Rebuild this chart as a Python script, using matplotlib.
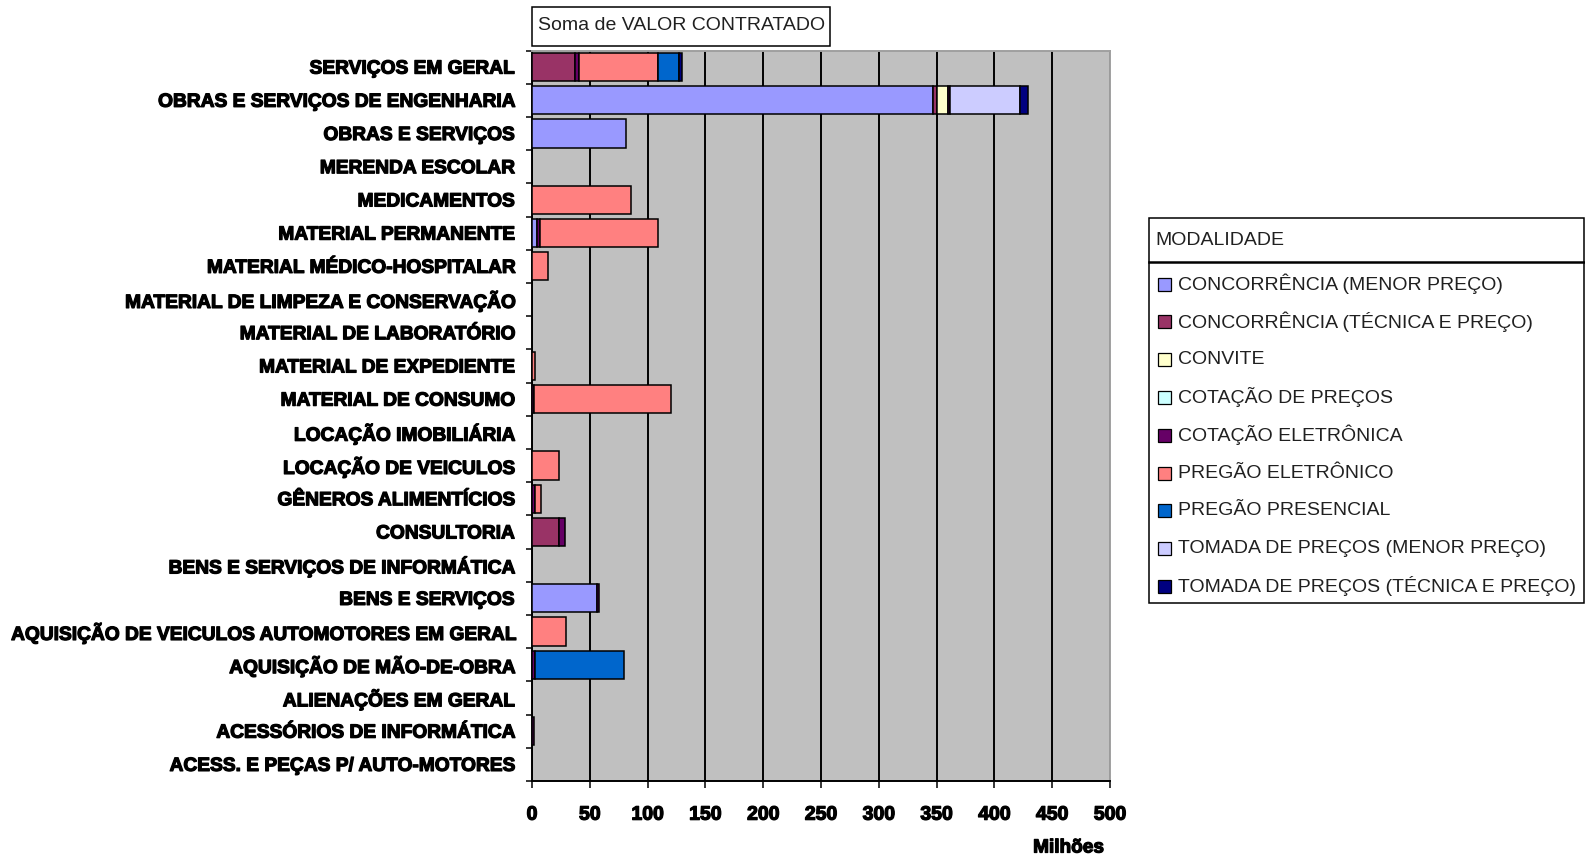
import numpy as np
import matplotlib
matplotlib.use("Agg")
import matplotlib.pyplot as plt
import matplotlib.patheffects as pe
from matplotlib.patches import Rectangle
from matplotlib.lines import Line2D

plt.rcParams["font.family"] = ["Liberation Sans", "DejaVu Sans"]

# ── DADOS (milhões de R$) ────────────────────────────────────────────────────

categorias = [
    "SERVIÇOS EM GERAL",
    "OBRAS E SERVIÇOS DE ENGENHARIA",
    "OBRAS E SERVIÇOS",
    "MERENDA ESCOLAR",
    "MEDICAMENTOS",
    "MATERIAL PERMANENTE",
    "MATERIAL MÉDICO-HOSPITALAR",
    "MATERIAL DE LIMPEZA E CONSERVAÇÃO",
    "MATERIAL DE LABORATÓRIO",
    "MATERIAL DE EXPEDIENTE",
    "MATERIAL DE CONSUMO",
    "LOCAÇÃO IMOBILIÁRIA",
    "LOCAÇÃO DE VEICULOS",
    "GÊNEROS ALIMENTÍCIOS",
    "CONSULTORIA",
    "BENS E SERVIÇOS DE INFORMÁTICA",
    "BENS E SERVIÇOS",
    "AQUISIÇÃO DE VEICULOS AUTOMOTORES EM GERAL",
    "AQUISIÇÃO DE MÃO-DE-OBRA",
    "ALIENAÇÕES EM GERAL",
    "ACESSÓRIOS DE INFORMÁTICA",
    "ACESS. E PEÇAS P/ AUTO-MOTORES",
]

modalidades = [
    "CONCORRÊNCIA (MENOR PREÇO)",
    "CONCORRÊNCIA (TÉCNICA E PREÇO)",
    "CONVITE",
    "COTAÇÃO DE PREÇOS",
    "COTAÇÃO ELETRÔNICA",
    "PREGÃO ELETRÔNICO",
    "PREGÃO PRESENCIAL",
    "TOMADA DE PREÇOS (MENOR PREÇO)",
    "TOMADA DE PREÇOS (TÉCNICA E PREÇO)",
]

cores = ["#9999FF", "#993366", "#FFFFCC", "#CCFFFF", "#660066",
         "#FF8080", "#0066CC", "#CCCCFF", "#000080"]

#               SERV  OBRAS-E OBRAS MEREN MEDIC PERM  MEDH  LIMP  LAB   EXPED CONS  LOCIM LOCV  GEN   CONSU BSINF BS    VEIC  MAO   ALIEN ACINF ACPEC
conc_menor   = [0,    347.2,  81.0, 0,    0,    4.0,  0,    0,    0,    0,    0,    0,    0,    0,    0,    0,    56.0, 0,    0,    0,    0,    0]
conc_tecnica = [37.2, 3.4,    0,    0,    0,    0,    0,    0,    0,    0,    0,    0,    0,    0,    23.1, 0,    0,    0,    0,    0,    0,    0]
convite      = [0,    9.5,    0,    0,    0,    0,    0,    0,    0,    0,    0,    0,    0,    0,    0,    0,    0,    0,    0,    0,    0,    0]
cot_precos   = [0,    0,      0,    0,    0,    0,    0,    0,    0,    0,    0,    0,    0,    0,    0,    0,    0,    0,    0,    0,    0,    0]
cot_eletr    = [3.7,  1.5,    0,    0,    0,    2.9,  0,    0,    0,    0,    1.7,  0,    0,    2.3,  5.4,  0,    2.0,  0,    2.3,  0,    2.0,  0]
pregao_eletr = [67.8, 0,      0,    0,    85.6, 102.0,14.1, 0,    0,    2.9,  118.3,0,    23.6, 5.5,  0,    0,    0,    29.7, 0,    0,    0,    0]
pregao_pres  = [18.7, 0,      0,    0,    0,    0,    0,    0,    0,    0,    0,    0,    0,    0,    0,    0,    0,    0,    77.3, 0,    0,    0]
tomada_menor = [0,    60.5,   0,    0,    0,    0,    0,    0,    0,    0,    0,    0,    0,    0,    0,    0,    0,    0,    0,    0,    0,    0]
tomada_tec   = [2.4,  6.9,    0,    0,    0,    0,    0,    0,    0,    0,    0,    0,    0,    0,    0,    0,    0,    0,    0,    0,    0,    0]

series = [conc_menor, conc_tecnica, convite, cot_precos, cot_eletr,
          pregao_eletr, pregao_pres, tomada_menor, tomada_tec]

xticks = list(range(0, 501, 50))

# ── FIGURA ───────────────────────────────────────────────────────────────────

W, H = 1585, 858
fig = plt.figure(figsize=(W / 100, H / 100), dpi=100)


def fx(x):
    return x / W


def fy(y):
    return 1 - y / H


grosso = [pe.withStroke(linewidth=0.9, foreground="black")]

ax = fig.add_axes([fx(532), fy(781), fx(1110) - fx(532), fy(50.5) - fy(781)])
ax.set_facecolor("#C0C0C0")

y = np.arange(len(categorias))
left = np.zeros(len(categorias))
for vals, cor in zip(series, cores):
    vals = np.array(vals, dtype=float)
    m = vals > 0
    if m.any():
        ax.barh(y[m], vals[m], left=left[m], height=0.85, color=cor,
                edgecolor="black", linewidth=1.1, zorder=3)
    left += vals

ax.set_xlim(0, 500)
ax.set_ylim(len(categorias) - 0.5, -0.5)

ax.set_xticks(xticks)
ax.set_xticklabels([str(t) for t in xticks], fontsize=14, fontweight="bold")
ax.grid(axis="x", color="black", linewidth=1.4, zorder=1)
ax.tick_params(axis="x", length=5, width=1.1, pad=13.5, direction="out")

ax.set_yticks(y)
ax.set_yticklabels(categorias, fontsize=13.8, fontweight="bold")
ax.set_yticks(np.arange(-0.5, len(categorias), 1), minor=True)
ax.tick_params(axis="y", which="major", length=0, pad=13)
ax.tick_params(axis="y", which="minor", length=4.3, width=1.1, direction="out")

for lbl in ax.get_xticklabels() + ax.get_yticklabels():
    lbl.set_path_effects(grosso)

for s in ["left", "bottom"]:
    ax.spines[s].set_color("black")
    ax.spines[s].set_linewidth(1.4)
for s in ["top", "right"]:
    ax.spines[s].set_color("#A0A0A0")
    ax.spines[s].set_linewidth(1.4)

fig.text(fx(1104), fy(848), "Milhões", ha="right", va="center",
         fontsize=13.7, fontweight="bold", path_effects=grosso)

# caixa do título
fig.add_artist(Rectangle((fx(531.7), fy(45.7)), fx(830) - fx(531.7), fy(6.7) - fy(45.7),
                         transform=fig.transFigure, facecolor="white",
                         edgecolor="black", linewidth=1.1))
fig.text(fx(538.3), fy(26), "Soma de VALOR CONTRATADO", ha="left", va="center",
         fontsize=14, color="#202020")

# ── LEGENDA ──────────────────────────────────────────────────────────────────

fig.add_artist(Rectangle((fx(1149), fy(603)), fx(1584) - fx(1149), fy(218) - fy(603),
                         transform=fig.transFigure, facecolor="white",
                         edgecolor="black", linewidth=1.1))
fig.add_artist(Line2D([fx(1149), fx(1584)], [fy(261.7), fy(261.7)],
                      transform=fig.transFigure, color="black", linewidth=1.8))
fig.text(fx(1155), fy(240.5), "MODALIDADE", ha="left", va="center",
         fontsize=14, color="#202020")

for i, (nome, cor) in enumerate(zip(modalidades, cores)):
    yc = 284 + i * 37.8
    fig.add_artist(Rectangle((fx(1158), fy(yc + 6.5)), fx(13), 13 / H,
                             transform=fig.transFigure, facecolor=cor,
                             edgecolor="black", linewidth=0.9))
    fig.text(fx(1178), fy(yc), nome, ha="left", va="center",
             fontsize=14, color="#202020")

plt.savefig("out.png", dpi=100)
